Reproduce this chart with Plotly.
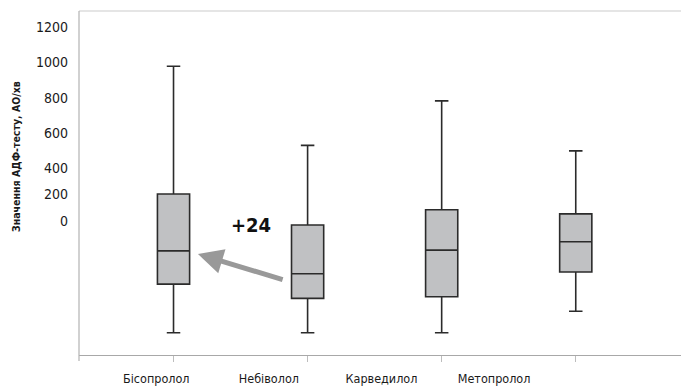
import plotly.graph_objects as go

categories = ["Бісопролол", "Небіволол", "Карведилол", "Метопролол"]
lower_fence = [-529, -529, -529, -408]
q1_vals = [-254, -335, -326, -186]
median_vals = [-66, -196, -62, -15]
q3_vals = [255, 80, 166, 143]
upper_fence = [978, 530, 782, 499]

y_tick_vals = [1200, 1000, 800, 600, 400, 253, 102]
y_tick_text = ["1200", "1000", "800", "600", "400", "200", "0"]

y_title = "Значення АДФ-тесту, АО/хв"
delta_text = "+24"

FONT = "Liberation Sans Narrow, DejaVu Sans Condensed, Arial Narrow, sans-serif"

fig = go.Figure()
fig.add_trace(go.Box(
    x=categories,
    q1=q1_vals, median=median_vals, q3=q3_vals,
    lowerfence=lower_fence, upperfence=upper_fence,
    fillcolor="#c0c1c3",
    line=dict(color="#2b2b2b", width=1.6),
    width=0.24,
    whiskerwidth=0.42,
    boxpoints=False,
    showlegend=False,
    hoverinfo="skip",
    xaxis="x", yaxis="y",
))
# invisible trace carrying the category labels (labels sit offset from boxes)
fig.add_trace(go.Scatter(
    x=categories, y=[0] * len(categories), mode="markers",
    marker=dict(opacity=0), showlegend=False, hoverinfo="skip",
    xaxis="x2", yaxis="y",
))

fig.update_layout(
    width=681, height=387,
    margin=dict(l=79, r=0, t=11, b=32),
    paper_bgcolor="white", plot_bgcolor="white",
    font=dict(family=FONT, color="#1a1a1a", size=14),
    xaxis=dict(
        type="category", categoryorder="array", categoryarray=categories,
        range=[-0.705, 3.785],
        showticklabels=False, showgrid=False, zeroline=False,
        showline=True, linecolor="#a8a8a8", linewidth=1.2,
        ticks="outside", ticklen=6, tickcolor="#bdbdbd", tickwidth=1.2,
    ),
    xaxis2=dict(
        type="category", categoryorder="array", categoryarray=categories,
        overlaying="x", side="bottom", anchor="y",
        range=[-0.686, 4.66],
        showgrid=False, zeroline=False, showline=False, ticks="",
        tickfont=dict(family=FONT, size=12.5, color="#1a1a1a"),
        ticklabelstandoff=14,
    ),
    yaxis=dict(
        range=[-655, 1290],
        tickvals=y_tick_vals, ticktext=y_tick_text,
        showgrid=False, zeroline=False, showline=False, ticks="",
        tickfont=dict(family=FONT, size=14, color="#1a1a1a"),
        ticklabelstandoff=10,
    ),
    shapes=[
        dict(type="line", xref="paper", yref="paper", x0=0, x1=1, y0=1, y1=1,
             line=dict(color="#cccccc", width=1.2)),
        dict(type="line", xref="paper", yref="paper", x0=0, x1=0, y0=-6/344, y1=1,
             line=dict(color="#b3b3b3", width=1.2)),
    ],
    annotations=[
        dict(text=f"<b>{y_title}</b>", xref="paper", yref="paper",
             x=-63/602, y=(355-157)/344, textangle=-90, showarrow=False,
             font=dict(family=FONT, size=10.5, color="#1a1a1a"),
             xanchor="center", yanchor="middle"),
        dict(text=f"<b>{delta_text}</b>", xref="x", yref="y", x=0.58, y=80,
             showarrow=False, font=dict(family=FONT, size=20, color="#111111")),
        dict(text="", xref="x", yref="y", axref="x", ayref="y",
             x=0.182, y=-84, ax=0.825, ay=-231,
             showarrow=True, arrowhead=2, arrowsize=1.0, arrowwidth=5,
             arrowcolor="#999999"),
    ],
)

fig.write_html("out.html",
               config={"displayModeBar": False},
               post_script="document.body.style.margin='0';document.body.style.overflow='hidden';")
